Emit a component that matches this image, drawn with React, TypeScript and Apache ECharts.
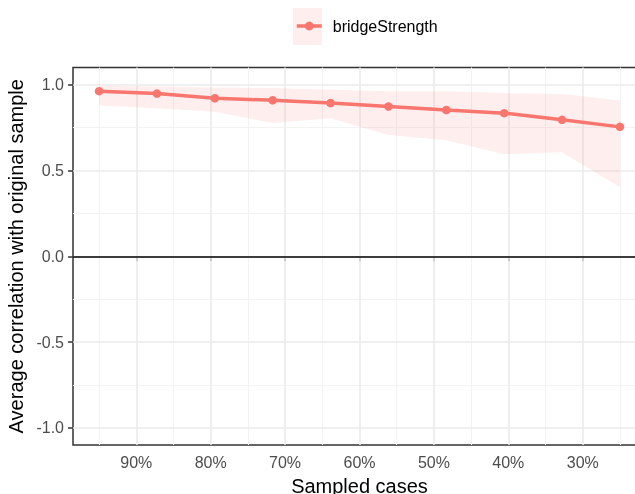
import React, { useEffect, useRef } from "react";
import * as echarts from "echarts";

const pct = [95, 87.22, 79.44, 71.67, 63.89, 56.11, 48.33, 40.56, 32.78, 25];
const meanCor = [0.962, 0.948, 0.921, 0.909, 0.893, 0.873, 0.852, 0.834, 0.795, 0.754];
const lowerCor = [0.878, 0.862, 0.842, 0.776, 0.804, 0.706, 0.676, 0.594, 0.606, 0.402];
const upperCor = [0.994, 0.99, 0.984, 0.98, 0.97, 0.961, 0.961, 0.951, 0.945, 0.908];
const xTicks = [90, 80, 70, 60, 50, 40, 30];
const xMinor = [95, 85, 75, 65, 55, 45, 35, 25];
const yTicks = [-1, -0.5, 0, 0.5, 1];
const yMinor = [-0.75, -0.25, 0.25, 0.75];
const seriesName = "bridgeStrength";

const RED = "#F8766D";
const FONT = "'Liberation Sans', Arial, Helvetica, sans-serif";

export default function App() {
  const ref = useRef<HTMLDivElement>(null);
  useEffect(() => {
    if (!ref.current) return;
    const chart = echarts.init(ref.current, undefined, { renderer: "svg" });
    const major = { color: "#EBEBEB", width: 1.6, type: "solid" };
    const minor = { color: "#F3F3F3", width: 1, type: "solid" };
    const gridLines: any[] = [
      ...xMinor.map((v) => ({ xAxis: v, lineStyle: minor })),
      ...yMinor.map((v) => ({ yAxis: v, lineStyle: minor })),
      ...xTicks.map((v) => ({ xAxis: v, lineStyle: major })),
      ...yTicks.map((v) => ({ yAxis: v, lineStyle: major })),
    ];
    chart.setOption({
      animation: false,
      textStyle: { fontFamily: FONT },
      graphic: [
        {
          type: "rect",
          shape: { x: 293, y: 8, width: 29, height: 37 },
          style: { fill: "rgba(248,118,109,0.12)" },
          z: 0,
        },
      ],
      legend: {
        data: [seriesName],
        left: 295,
        top: 18,
        padding: 0,
        itemWidth: 25,
        itemHeight: 11,
        lineStyle: { width: 3.5 },
        textStyle: { fontSize: 16, color: "#000", fontFamily: FONT, padding: [0, 0, 0, 6] },
      },
      grid: {
        left: 73,
        top: 67.5,
        width: 573,
        height: 377.5,
        outerBoundsMode: "none",
        containLabel: false,
        show: true,
        borderColor: "#333333",
        borderWidth: 1.5,
        backgroundColor: "transparent",
      },
      xAxis: {
        type: "value",
        inverse: true,
        min: 21.5,
        max: 98.5,
        name: "Sampled cases",
        nameLocation: "middle",
        nameGap: 31,
        nameTextStyle: { fontSize: 20, color: "#000", fontFamily: FONT },
        axisLine: { show: false },
        splitLine: { show: false },
        axisTick: {
          show: true,
          length: 5,
          customValues: xTicks,
          lineStyle: { color: "#333333", width: 1.5 },
        },
        axisLabel: {
          customValues: xTicks,
          margin: 9,
          fontSize: 16,
          color: "#4D4D4D",
          fontFamily: FONT,
          formatter: (v: number) => `${v}%`,
        },
      },
      yAxis: {
        type: "value",
        min: -1.1,
        max: 1.1,
        name: "Average correlation with original sample",
        nameLocation: "middle",
        nameGap: 29,
        nameTextStyle: { fontSize: 20, color: "#000", fontFamily: FONT },
        axisLine: { show: false },
        splitLine: { show: false },
        axisTick: {
          show: true,
          length: 5,
          customValues: yTicks,
          lineStyle: { color: "#333333", width: 1.5 },
        },
        axisLabel: {
          customValues: yTicks,
          margin: 9,
          fontSize: 16,
          color: "#4D4D4D",
          fontFamily: FONT,
          formatter: (v: number) => v.toFixed(1),
        },
      },
      series: [
        {
          name: "ribbon",
          type: "custom",
          silent: true,
          z: 2,
          data: pct.map((x, i) => [x, lowerCor[i], upperCor[i]]),
          encode: { x: 0, y: [1, 2] },
          renderItem: (params: any, api: any) => {
            if (params.dataIndex !== 0) return null;
            const top = pct.map((x, i) => api.coord([x, upperCor[i]]));
            const bottom = pct.map((x, i) => api.coord([x, lowerCor[i]])).reverse();
            return {
              type: "polygon",
              shape: { points: [...top, ...bottom] },
              style: { fill: "rgba(248,118,109,0.12)" },
            };
          },
          markLine: {
            z: 1,
            silent: true,
            symbol: "none",
            label: { show: false },
            data: [
              ...gridLines,
              { yAxis: 0, lineStyle: { color: "#000", width: 1.5, type: "solid" } },
            ],
          },
        },
        {
          name: seriesName,
          type: "line",
          data: pct.map((x, i) => [x, meanCor[i]]),
          symbol: "circle",
          symbolSize: 8.5,
          itemStyle: { color: RED },
          lineStyle: { color: RED, width: 3.5 },
          z: 10,
        },
      ],
    });
    return () => chart.dispose();
  }, []);
  return (
    <div
      ref={ref}
      style={{ position: "fixed", left: 0, top: 0, width: 660, height: 494 }}
    />
  );
}
